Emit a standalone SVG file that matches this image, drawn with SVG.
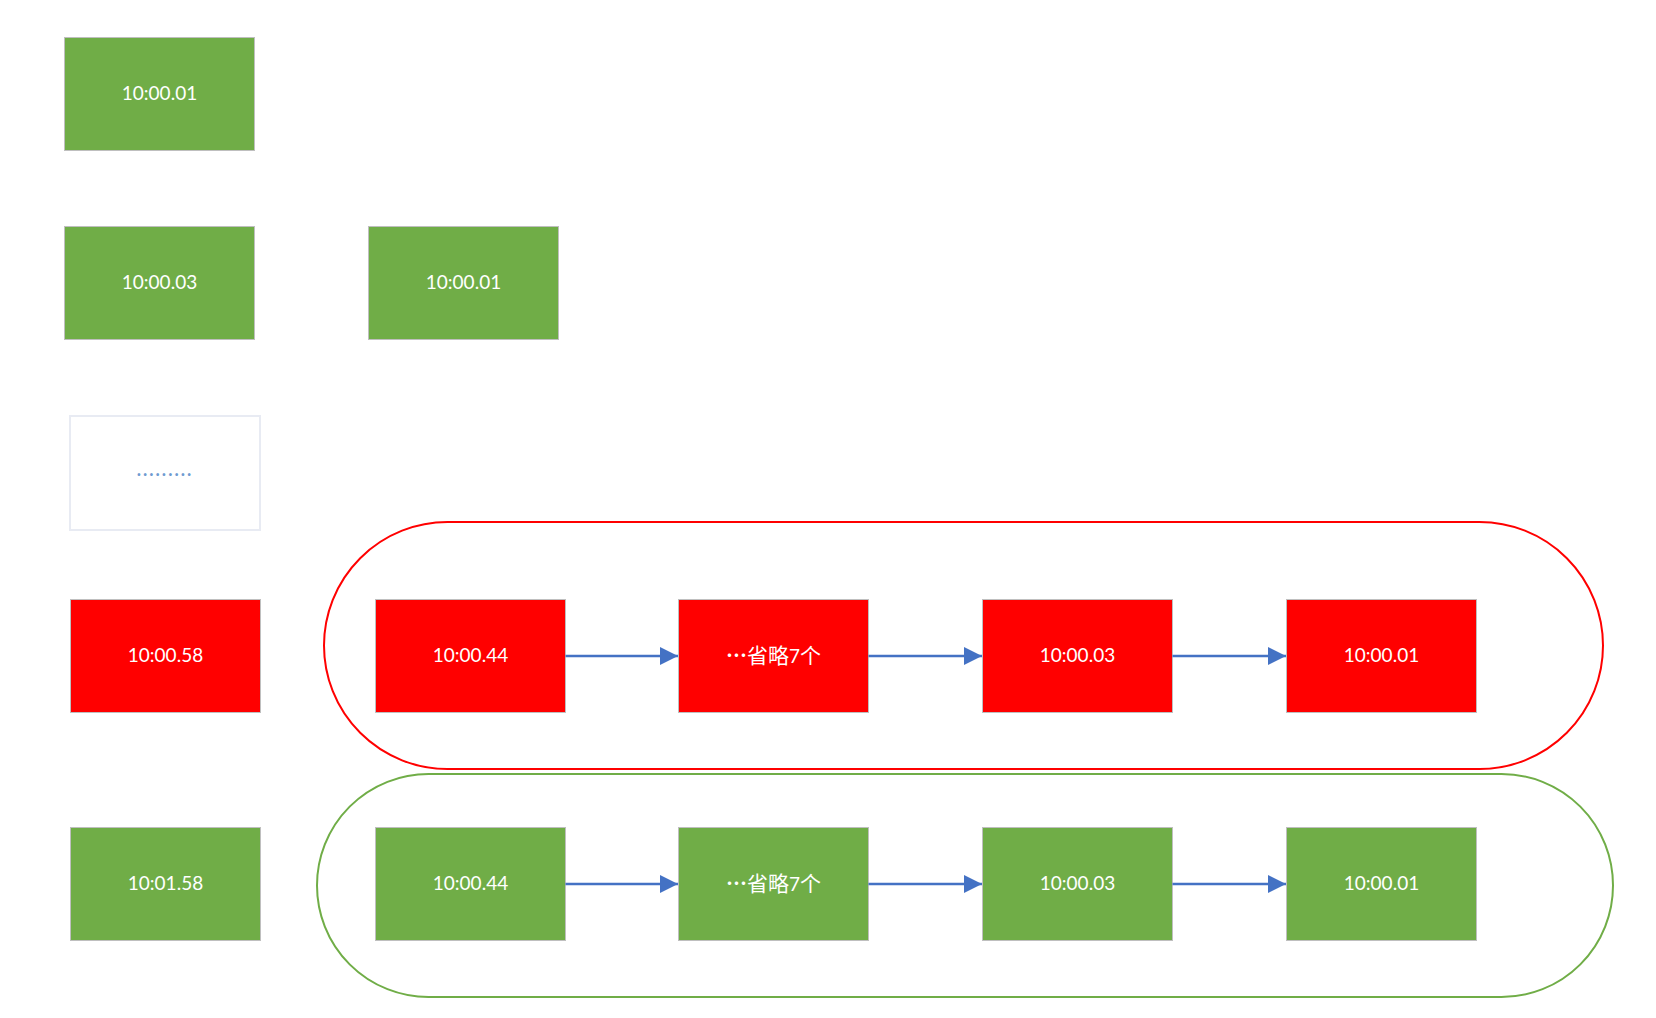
<svg xmlns="http://www.w3.org/2000/svg" width="1656" height="1018" viewBox="0 0 1656 1018">
<style>
.g{fill:#70AD47;stroke:#BFBFBF;stroke-width:1}
.r{fill:#FF0000;stroke:#BFBFBF;stroke-width:1}
.t{fill:#FFFFFF;font-family:Lato,"Noto Sans CJK SC",sans-serif;font-size:19px;text-anchor:middle}
.e{font-family:"Noto Sans CJK SC",sans-serif;font-size:21px}
.d{font-family:"Noto Sans CJK SC",sans-serif;font-size:21px;font-weight:bold}
.c{stroke:#4472C4;stroke-width:2.5;fill:none}
</style>
<defs>
<marker id="ah" markerUnits="userSpaceOnUse" markerWidth="18" markerHeight="18" refX="18" refY="9" orient="auto"><polygon points="0,0 18,9 0,18" fill="#4472C4"/></marker>
</defs>
<rect width="1656" height="1018" fill="#FFFFFF"/>
<g id="group-red"><rect x="324" y="522" width="1279" height="247" rx="123.5" ry="123.5" fill="none" stroke="#FF0000" stroke-width="2"/></g>
<g id="group-green"><rect x="317" y="774" width="1296" height="223" rx="111.5" ry="111.5" fill="none" stroke="#70AD47" stroke-width="2"/></g>
<g id="n1"><rect class="g" x="64.5" y="37.5" width="190" height="113"/><text class="t" x="159.5" y="100">10:00.01</text></g>
<g id="n2"><rect class="g" x="64.5" y="226.5" width="190" height="113"/><text class="t" x="159.5" y="289">10:00.03</text></g>
<g id="n3"><rect class="g" x="368.5" y="226.5" width="190" height="113"/><text class="t" x="463.5" y="289">10:00.01</text></g>
<g id="n4"><rect x="70" y="416" width="190" height="114" fill="#FFFFFF" stroke="#E8EBF3" stroke-width="2"/><text x="165" y="476" font-family="Lato,sans-serif" font-size="18" font-weight="bold" fill="#6F9BD1" text-anchor="middle" letter-spacing="2">.........</text></g>
<g id="n5"><rect class="r" x="70.5" y="599.5" width="190" height="113"/><text class="t" x="165.5" y="662">10:00.58</text></g>
<g id="n6"><rect class="r" x="375.5" y="599.5" width="190" height="113"/><text class="t" x="470.5" y="662">10:00.44</text></g>
<g id="n7"><rect class="r" x="678.5" y="599.5" width="190" height="113"/><text class="t" x="773.5" y="663"><tspan class="d">…</tspan><tspan class="e">省略</tspan>7<tspan class="e">个</tspan></text></g>
<g id="n8"><rect class="r" x="982.5" y="599.5" width="190" height="113"/><text class="t" x="1077.5" y="662">10:00.03</text></g>
<g id="n9"><rect class="r" x="1286.5" y="599.5" width="190" height="113"/><text class="t" x="1381.5" y="662">10:00.01</text></g>
<g id="n10"><rect class="g" x="70.5" y="827.5" width="190" height="113"/><text class="t" x="165.5" y="890">10:01.58</text></g>
<g id="n11"><rect class="g" x="375.5" y="827.5" width="190" height="113"/><text class="t" x="470.5" y="890">10:00.44</text></g>
<g id="n12"><rect class="g" x="678.5" y="827.5" width="190" height="113"/><text class="t" x="773.5" y="891"><tspan class="d">…</tspan><tspan class="e">省略</tspan>7<tspan class="e">个</tspan></text></g>
<g id="n13"><rect class="g" x="982.5" y="827.5" width="190" height="113"/><text class="t" x="1077.5" y="890">10:00.03</text></g>
<g id="n14"><rect class="g" x="1286.5" y="827.5" width="190" height="113"/><text class="t" x="1381.5" y="890">10:00.01</text></g>
<g id="connectors">
<line class="c" x1="565.5" y1="656" x2="678" y2="656" marker-end="url(#ah)"/>
<line class="c" x1="868.5" y1="656" x2="982" y2="656" marker-end="url(#ah)"/>
<line class="c" x1="1172.5" y1="656" x2="1286" y2="656" marker-end="url(#ah)"/>
<line class="c" x1="565.5" y1="884" x2="678" y2="884" marker-end="url(#ah)"/>
<line class="c" x1="868.5" y1="884" x2="982" y2="884" marker-end="url(#ah)"/>
<line class="c" x1="1172.5" y1="884" x2="1286" y2="884" marker-end="url(#ah)"/>
</g>
</svg>
